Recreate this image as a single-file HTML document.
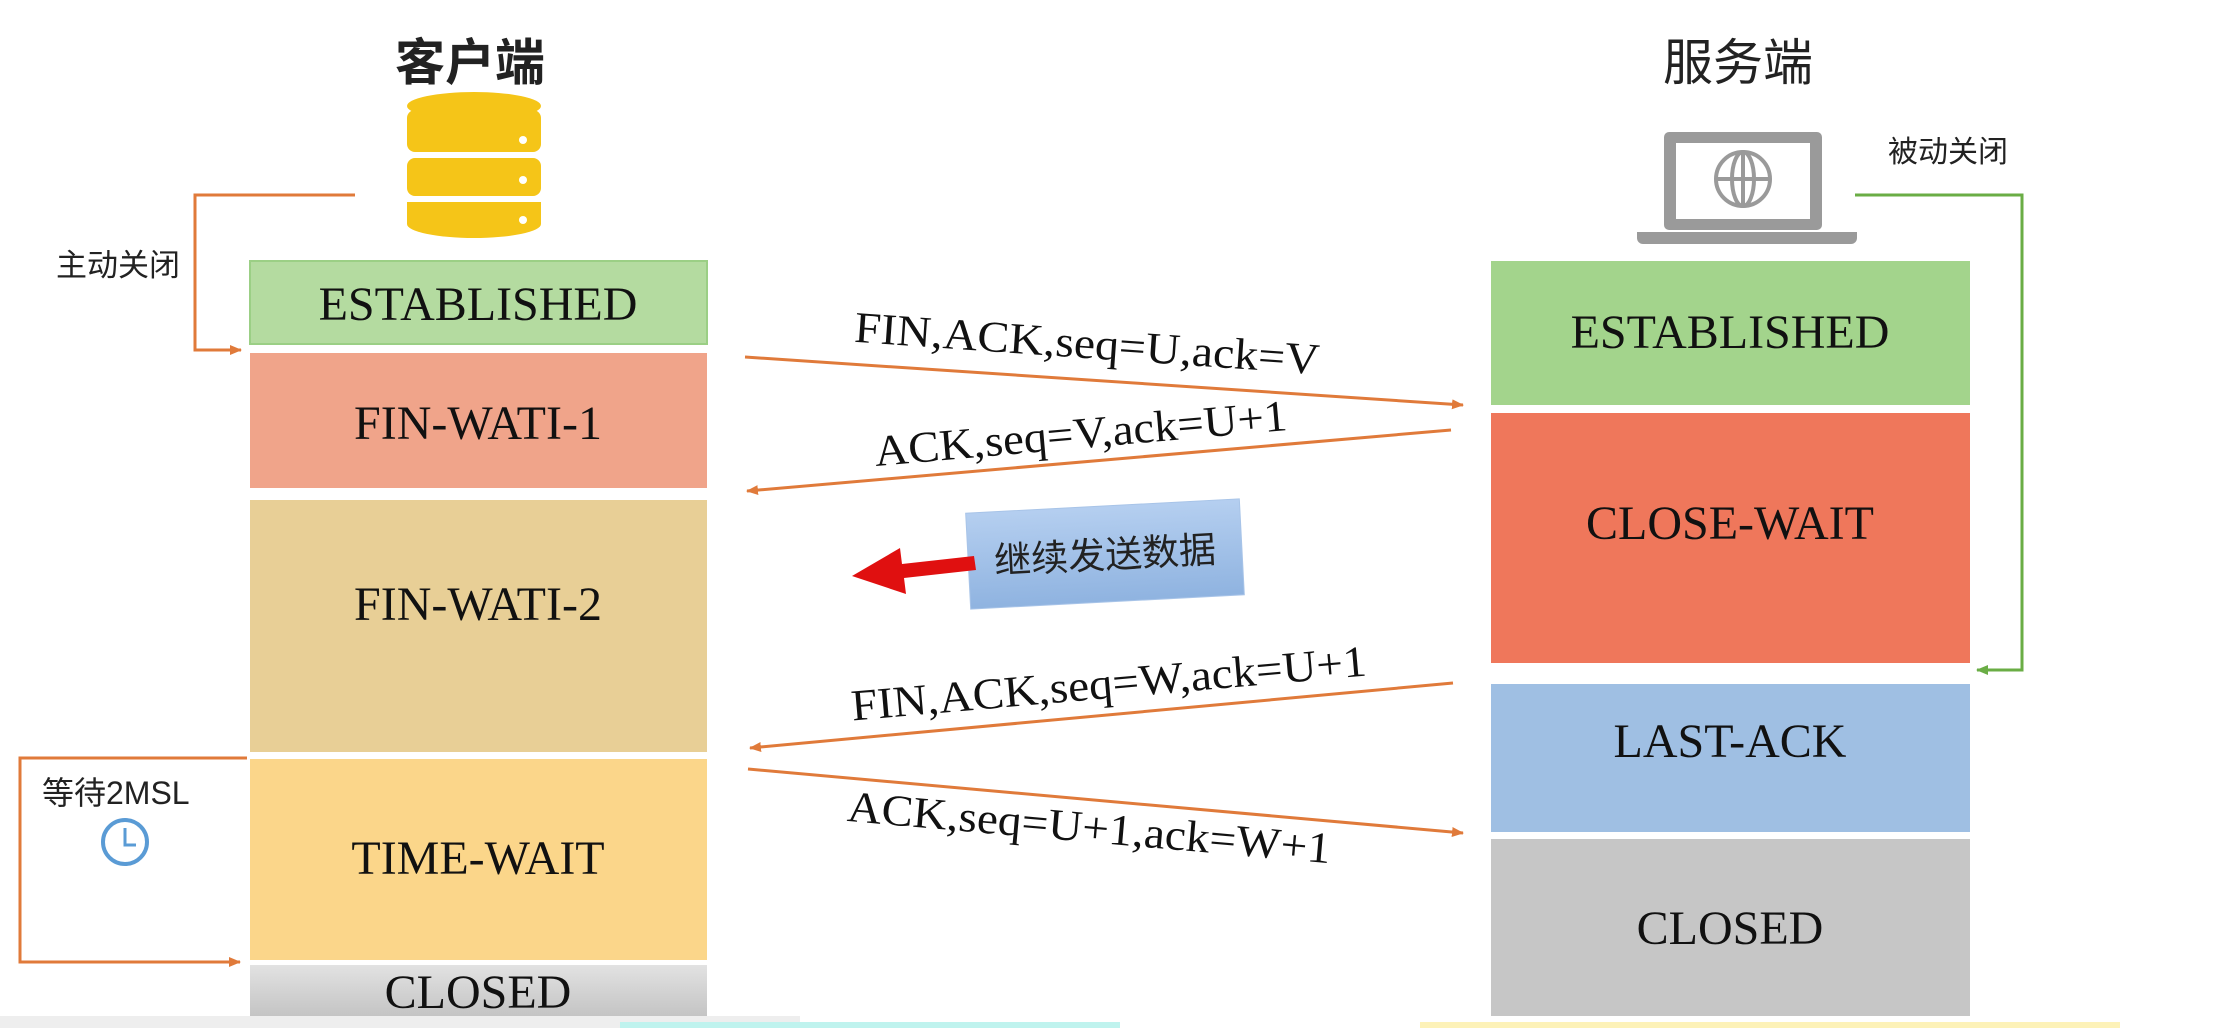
<!DOCTYPE html>
<html><head><meta charset="utf-8"><style>
html,body{margin:0;padding:0;background:#fff;}
body{width:2213px;height:1028px;overflow:hidden;position:relative;}
svg{position:absolute;left:0;top:0;}
.s{font-family:"Liberation Serif",serif;fill:#111;}
.c{font-family:"Liberation Sans","Noto Sans CJK SC",sans-serif;fill:#222;}
</style></head><body>
<svg width="2213" height="1028" viewBox="0 0 2213 1028">
<defs>
<marker id="ao" markerWidth="12" markerHeight="10" refX="11" refY="5" orient="auto" markerUnits="userSpaceOnUse"><path d="M0,0 L12,5 L0,10 Z" fill="#e07a3a"/></marker>
<marker id="ag" markerWidth="12" markerHeight="10" refX="11" refY="5" orient="auto" markerUnits="userSpaceOnUse"><path d="M0,0 L12,5 L0,10 Z" fill="#6aad45"/></marker>
<linearGradient id="gc" x1="0" y1="0" x2="0" y2="1"><stop offset="0" stop-color="#e2e2e2"/><stop offset="1" stop-color="#c4c4c4"/></linearGradient>
<linearGradient id="gb" x1="0" y1="0" x2="0" y2="1"><stop offset="0" stop-color="#b5cff0"/><stop offset="1" stop-color="#8fb3e0"/></linearGradient>
</defs>

<text x="470" y="80" class="c" font-size="50" text-anchor="middle" font-weight="bold" fill="#111">客户端</text>
<text x="1738" y="80" class="c" font-size="50" text-anchor="middle" fill="#111">服务端</text>

<g fill="#f5c518">
<ellipse cx="474" cy="106" rx="67" ry="14"/>
<rect x="407" y="110" width="134" height="42" rx="8"/>
<rect x="407" y="158" width="134" height="38" rx="8"/>
<path d="M407,202 h134 v22 a67,14 0 0 1 -134,0 z"/>
</g>
<g fill="#fff"><circle cx="523" cy="140" r="4"/><circle cx="523" cy="180" r="4"/><circle cx="523" cy="220" r="4"/></g>

<rect x="1664" y="132" width="158" height="98" rx="5" fill="#9a9a9a"/>
<rect x="1676" y="143" width="134" height="76" fill="#fff"/>
<path d="M1637,232 h220 v6 a6,6 0 0 1 -6,6 h-208 a6,6 0 0 1 -6,-6 z" fill="#9a9a9a"/>
<g fill="none" stroke="#9a9a9a" stroke-width="4">
<circle cx="1743" cy="179" r="27"/><ellipse cx="1743" cy="179" rx="11" ry="27"/>
<line x1="1716" y1="179" x2="1770" y2="179"/><line x1="1743" y1="152" x2="1743" y2="206"/>
</g>

<rect x="250" y="261" width="457" height="83" fill="#b4dba0" stroke="#9bcf85" stroke-width="2"/>
<rect x="250" y="353" width="457" height="135" fill="#f0a48a"/>
<rect x="250" y="500" width="457" height="252" fill="#e8cf96"/>
<rect x="250" y="759" width="457" height="201" fill="#fbd68a"/>
<rect x="250" y="965" width="457" height="51" fill="url(#gc)"/>
<g class="s" font-size="48" text-anchor="middle">
<text x="478" y="320">ESTABLISHED</text>
<text x="478" y="439">FIN-WATI-1</text>
<text x="478" y="620">FIN-WATI-2</text>
<text x="478" y="874">TIME-WAIT</text>
<text x="478" y="1008">CLOSED</text>
</g>

<rect x="1491" y="261" width="479" height="144" fill="#a3d48c"/>
<rect x="1491" y="413" width="479" height="250" fill="#ef775b"/>
<rect x="1491" y="684" width="479" height="148" fill="#9fbfe3"/>
<rect x="1491" y="839" width="479" height="177" fill="#c6c6c6"/>
<g class="s" font-size="48" text-anchor="middle">
<text x="1730" y="348">ESTABLISHED</text>
<text x="1730" y="539">CLOSE-WAIT</text>
<text x="1730" y="757">LAST-ACK</text>
<text x="1730" y="944">CLOSED</text>
</g>

<polyline points="355,195 195,195 195,350 241,350" fill="none" stroke="#e07a3a" stroke-width="3" marker-end="url(#ao)"/>
<text x="56" y="276" class="c" font-size="31">主动关闭</text>
<polyline points="247,758 20,758 20,962 240,962" fill="none" stroke="#e07a3a" stroke-width="3" marker-end="url(#ao)"/>
<text x="42" y="804" class="c" font-size="32">等待2MSL</text>
<circle cx="125" cy="842" r="22" fill="none" stroke="#5a9bd5" stroke-width="4"/>
<polyline points="125,828 125,845 136,845" fill="none" stroke="#5a9bd5" stroke-width="3"/>
<polyline points="1855,195 2022,195 2022,670 1977,670" fill="none" stroke="#6aad45" stroke-width="3" marker-end="url(#ag)"/>
<text x="1888" y="162" class="c" font-size="30">被动关闭</text>

<g stroke="#e07a3a" stroke-width="3" fill="none">
<line x1="745" y1="357" x2="1463" y2="405" marker-end="url(#ao)"/>
<line x1="1451" y1="430" x2="747" y2="491" marker-end="url(#ao)"/>
<line x1="1453" y1="683" x2="750" y2="748" marker-end="url(#ao)"/>
<line x1="748" y1="769" x2="1463" y2="833" marker-end="url(#ao)"/>
</g>
<g class="s" font-size="44" text-anchor="middle">
<text transform="translate(1086,358) rotate(4)" textLength="466" lengthAdjust="spacingAndGlyphs">FIN,ACK,seq=U,ack=V</text>
<text transform="translate(1082,448) rotate(-5)" textLength="414" lengthAdjust="spacingAndGlyphs">ACK,seq=V,ack=U+1</text>
<text transform="translate(1110,698) rotate(-5)" textLength="517" lengthAdjust="spacingAndGlyphs">FIN,ACK,seq=W,ack=U+1</text>
<text transform="translate(1088,842) rotate(5)" textLength="485" lengthAdjust="spacingAndGlyphs">ACK,seq=U+1,ack=W+1</text>
</g>

<g transform="rotate(-3 1105 554)">
<rect x="968" y="506" width="274" height="96" fill="url(#gb)" stroke="#a8c4e8"/>
<text x="1105" y="568" class="c" font-size="37" text-anchor="middle">继续发送数据</text>
</g>
<path d="M974,556 L902,564 L900,548 L852,576 L906,594 L904,578 L976,570 Z" fill="#e01010"/>

<rect x="0" y="1016" width="800" height="12" fill="#eeeeee"/>
<rect x="620" y="1022" width="500" height="6" fill="#bff3ee"/>
<rect x="1420" y="1022" width="700" height="6" fill="#fdf2b8"/>
</svg>
</body></html>
